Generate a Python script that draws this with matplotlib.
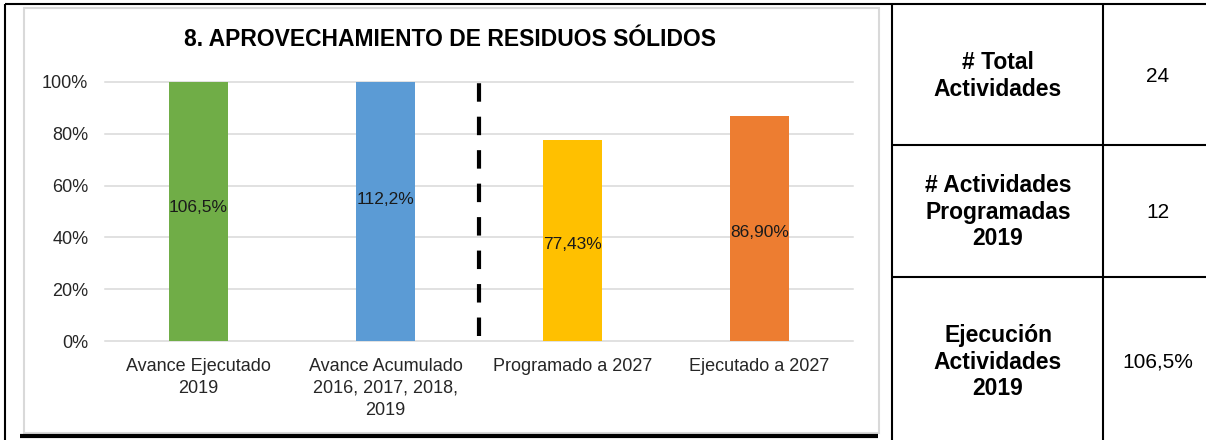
import matplotlib
matplotlib.use("Agg")
import matplotlib.pyplot as plt
from matplotlib.lines import Line2D
from matplotlib.patches import Rectangle

# chart data
categories = ["Avance Ejecutado\n2019",
              "Avance Acumulado\n2016, 2017, 2018,\n2019",
              "Programado a 2027",
              "Ejecutado a 2027"]
values = [1.065, 1.122, 0.7743, 0.869]
value_labels = ["106,5%", "112,2%", "77,43%", "86,90%"]
bar_colors = ["#70AD47", "#5B9BD5", "#FFC000", "#ED7D31"]
y_ticks = [0, 0.2, 0.4, 0.6, 0.8, 1.0]
y_tick_labels = ["0%", "20%", "40%", "60%", "80%", "100%"]
title = "8. APROVECHAMIENTO DE RESIDUOS SÓLIDOS"

# side table
table_labels = ["# Total\nActividades",
                "# Actividades\nProgramadas\n2019",
                "Ejecución\nActividades\n2019"]
table_values = ["24", "12", "106,5%"]

W, H = 1206, 440
plt.rcParams['font.family'] = ['Liberation Sans', 'DejaVu Sans']
plt.rcParams['lines.scale_dashes'] = False

fig = plt.figure(figsize=(W / 100, H / 100), dpi=100)


def fx(px):
    return px / W


def fy(py):
    return 1 - py / H


def line(x0, y0, x1, y1, lw=1.5, color='black'):
    fig.add_artist(Line2D([fx(x0), fx(x1)], [fy(y0), fy(y1)],
                          color=color, lw=lw, solid_capstyle='butt'))


# frame around the chart
fig.add_artist(Rectangle((fx(24), fy(433)), fx(879) - fx(24), fy(8) - fy(433),
                         fill=False, edgecolor='#d9d9d9', lw=1.5))

# outer black borders / table grid
line(5, 4, W, 4)
line(5, 4, 5, H)
line(20, 436, 878, 436, lw=3)
line(892, 4, 892, H)
line(1103, 4, 1103, H)
line(892, 145, W, 145)
line(892, 277, W, 277)

fig.text(fx(450), fy(40), title, ha='center', va='center',
         fontsize=16.5, fontweight='bold', color='black')

ax = fig.add_axes([fx(105), fy(341), fx(853) - fx(105), fy(82) - fy(341)])
x = list(range(len(categories)))
ax.bar(x, values, width=0.32, color=bar_colors, zorder=2)
ax.set_ylim(0, 1)
ax.set_xlim(-0.5, len(categories) - 0.5)
ax.set_yticks(y_ticks, y_tick_labels)
ax.set_xticks(x, categories, linespacing=1.4)
ax.yaxis.grid(True, color='#d9d9d9', lw=1.1)
ax.set_axisbelow(True)
for gl in ax.get_ygridlines():
    gl.set_clip_on(False)
for s in ax.spines.values():
    s.set_visible(False)
ax.tick_params(length=0, labelsize=13, colors='#262626')
ax.tick_params(axis='y', pad=12)
ax.tick_params(axis='x', pad=12)

for xi, v, lab in zip(x, values, value_labels):
    ax.annotate(lab, (xi, v / 2), xytext=(0, -3), textcoords='offset points',
                ha='center', va='center', fontsize=12.5, color='#1a1a1a')

# separator between 2019 and 2027 bars
ax.axvline(1.5, ymin=0.02, ymax=1, color='black', lw=3,
           linestyle=(0, (13.3, 10.8)), zorder=3)

row_centers = [76, 212, 362]
for lab, val, yc in zip(table_labels, table_values, row_centers):
    fig.text(fx(998), fy(yc), lab, ha='center', va='center', fontsize=16.5,
             fontweight='bold', linespacing=1.22)
    fig.text(fx(1158), fy(yc), val, ha='center', va='center', fontsize=15)

fig.savefig("out.png", dpi=100)
